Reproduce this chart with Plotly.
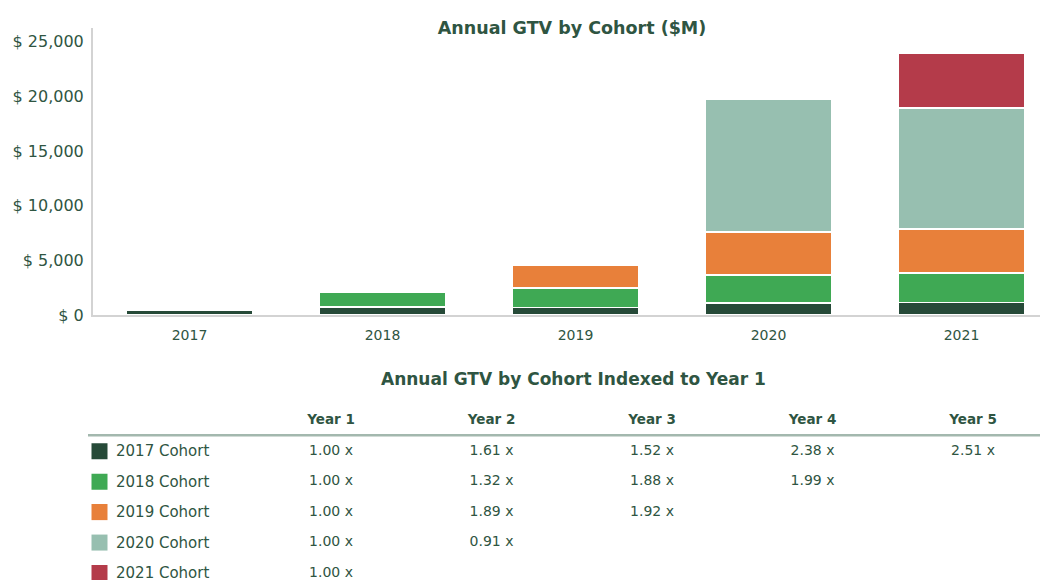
import plotly.graph_objects as go

# ---------------- data ----------------
years = ["2017", "2018", "2019", "2020", "2021"]
cohorts = ["2017 Cohort", "2018 Cohort", "2019 Cohort", "2020 Cohort", "2021 Cohort"]
cohort_colors = ["#264a38", "#3fa954", "#e8803a", "#97bfb0", "#b43b4a"]

# Annual GTV ($M) per cohort, by calendar year
gtv_2017_cohort = [460, 740, 700, 1095, 1155]
gtv_2018_cohort = [None, 1350, 1780, 2540, 2690]
gtv_2019_cohort = [None, None, 2100, 3970, 4030]
gtv_2020_cohort = [None, None, None, 12145, 11050]
gtv_2021_cohort = [None, None, None, None, 5035]

y_tick_vals = [0, 5000, 10000, 15000, 20000, 25000]
y_tick_text = ["$ 0", "$ 5,000", "$ 10,000", "$ 15,000", "$ 20,000", "$ 25,000"]

# Indexed table
year_headers = ["Year 1", "Year 2", "Year 3", "Year 4", "Year 5"]
idx_2017_cohort = [1.00, 1.61, 1.52, 2.38, 2.51]
idx_2018_cohort = [1.00, 1.32, 1.88, 1.99]
idx_2019_cohort = [1.00, 1.89, 1.92]
idx_2020_cohort = [1.00, 0.91]
idx_2021_cohort = [1.00]

chart_title = "Annual GTV by Cohort ($M)"
table_title = "Annual GTV by Cohort Indexed to Year 1"

# ---------------- style ----------------
W, H = 1040, 590
SCREEN_H = 581
FONT = "DejaVu Sans"
TXT = "#2f5542"
AXIS = "#d3d3d3"

def ry(y):
    """target screen y -> layout y (the page is captured scaled to the screen height)"""
    return y * H / SCREEN_H

def py(y):
    """target screen y -> paper fraction"""
    return 1 - ry(y) / H

gtv_series = [gtv_2017_cohort, gtv_2018_cohort, gtv_2019_cohort, gtv_2020_cohort, gtv_2021_cohort]
idx_series = [idx_2017_cohort, idx_2018_cohort, idx_2019_cohort, idx_2020_cohort, idx_2021_cohort]

fig = go.Figure()

for name, vals, col in zip(cohorts, gtv_series, cohort_colors):
    fig.add_trace(go.Bar(
        x=years, y=vals, name=name, marker=dict(color=col, line=dict(color="white", width=1.5)),
        xaxis="x", yaxis="y", showlegend=False, hoverinfo="skip"))

# ----- table as a second (hidden) subplot -----
col_px0, col_step = 331.0, 160.5          # screen x centre of Year 1 column, spacing
row_px0, row_step = 452.0, 30.5           # screen y centre of first row, spacing
def px_to_col(px):
    return 1 + (px - col_px0) / col_step
def px_to_row(p):
    return (p - row_px0) / row_step

tbl_top_px = 360
tbl_bot_px = SCREEN_H
rows = list(range(len(cohorts)))

fig.add_trace(go.Scatter(
    x=[px_to_col(99.5)] * len(cohorts), y=rows, mode="markers",
    marker=dict(symbol="square", size=16, color=cohort_colors, line=dict(width=0)),
    xaxis="x2", yaxis="y2", showlegend=False, hoverinfo="skip"))

fig.add_trace(go.Scatter(
    x=list(range(1, len(year_headers) + 1)), y=[-1] * len(year_headers), mode="text",
    text=year_headers, textfont=dict(family=FONT, size=13.5, color=TXT, weight="bold"),
    xaxis="x2", yaxis="y2", showlegend=False, hoverinfo="skip"))

for r, idx in enumerate(idx_series):
    fig.add_trace(go.Scatter(
        x=list(range(1, len(idx) + 1)), y=[r] * len(idx), mode="text",
        text=[f"{v:.2f} x" for v in idx], textfont=dict(family=FONT, size=14, color=TXT),
        xaxis="x2", yaxis="y2", showlegend=False, hoverinfo="skip"))

annotations = []
for r, name in enumerate(cohorts):
    annotations.append(dict(
        x=px_to_col(114), y=r, xref="x2", yref="y2", text=name, showarrow=False,
        xanchor="left", yanchor="middle", font=dict(family=FONT, size=15, color=TXT)))

annotations.append(dict(
    x=573 / W, y=py(380), xref="paper", yref="paper", text=f"<b>{table_title}</b>",
    showarrow=False, xanchor="center", yanchor="middle", font=dict(family=FONT, size=17, color=TXT)))

shapes = [dict(type="line", xref="paper", yref="paper", x0=88 / W, x1=1.0,
               y0=py(436), y1=py(436), line=dict(color="#a3b8ae", width=2.5))]

# bar-chart axes geometry (screen coordinates of reference)
zero_px, top_px, val_top_px = 315.5, 28.0, 41.7
y_max = (zero_px - top_px) / (zero_px - val_top_px) * 25000
left_px = 93.0
cat_step = 193.0
x_right = (W - left_px) / cat_step - 0.5

fig.update_layout(
    width=W, height=H, margin=dict(l=0, r=0, t=0, b=0),
    paper_bgcolor="white", plot_bgcolor="white",
    barmode="stack", bargap=0.347,
    font=dict(family=FONT, size=14, color=TXT),
    title=dict(text=f"<b>{chart_title}</b>", x=572 / W, xanchor="center",
               y=py(27), yanchor="middle", font=dict(family=FONT, size=17.5, color=TXT)),
    xaxis=dict(domain=[left_px / W, 1.0], range=[-0.5, x_right], type="category",
               showline=True, linecolor=AXIS, linewidth=2, ticks="", showgrid=False,
               tickfont=dict(family=FONT, size=14, color=TXT), ticklabelstandoff=6,
               fixedrange=True),
    yaxis=dict(domain=[py(zero_px), py(top_px)], range=[0, y_max],
               showline=True, linecolor=AXIS, linewidth=2, ticks="", showgrid=False,
               zeroline=False, tickvals=y_tick_vals, ticktext=y_tick_text,
               tickfont=dict(family=FONT, size=16, color=TXT), ticklabelstandoff=4,
               fixedrange=True),
    xaxis2=dict(domain=[0, 1], range=[px_to_col(0), px_to_col(W)], visible=False,
                anchor="y2", fixedrange=True),
    yaxis2=dict(domain=[0, py(tbl_top_px)], range=[px_to_row(tbl_bot_px), px_to_row(tbl_top_px)],
                visible=False, anchor="x2", fixedrange=True),
    annotations=annotations, shapes=shapes,
)

fig.write_html(
    "out.html",
    config={"displayModeBar": False, "staticPlot": True},
    post_script="document.body.style.margin='0';document.documentElement.style.overflow='hidden';document.body.style.overflow='hidden';",
)
